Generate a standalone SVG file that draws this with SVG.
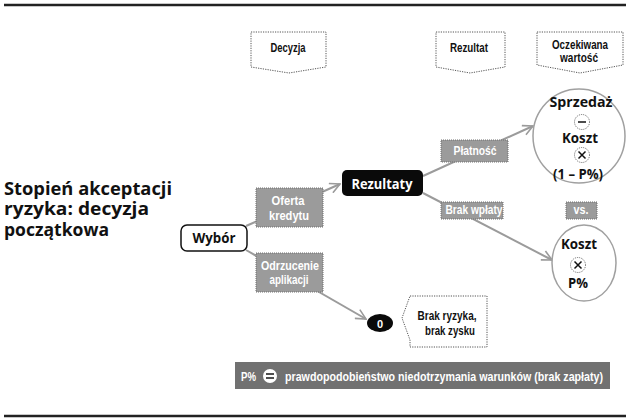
<svg xmlns="http://www.w3.org/2000/svg" width="630" height="419" viewBox="0 0 630 419">
<defs>
<style>
.rule{stroke:#222;stroke-width:2.5}
.hdr{fill:#fff;stroke:#555;stroke-width:1;stroke-dasharray:1.2 1.2}
.hdrt{font-family:"Liberation Sans Narrow","Liberation Sans",Arial,sans-serif;font-weight:bold;font-size:12px;fill:#111;text-anchor:middle}
.lbl{fill:#9b9b9b;stroke:#6e6e6e;stroke-width:1;stroke-dasharray:1 1}
.lblt{font-family:"Liberation Sans Narrow","Liberation Sans",Arial,sans-serif;font-weight:bold;font-size:12px;fill:#fff;text-anchor:middle}
.bold{font-family:"Open Sans","Liberation Sans",Arial,sans-serif;font-weight:bold;font-size:14px;text-anchor:middle}
.conn{stroke:#9b9b9b;stroke-width:2;fill:none}
.ell{fill:#fff;stroke:#a0a0a0;stroke-width:1.5}
.sym{fill:#fff;stroke:#444;stroke-width:0.8;stroke-dasharray:1 1}
.symm{stroke:#111;stroke-width:1.5;fill:none}
</style>
<marker id="arr" viewBox="0 0 12 12" refX="11" refY="6" markerWidth="12" markerHeight="12" markerUnits="userSpaceOnUse" orient="auto">
<path d="M1,1 L11,6 L1,11" fill="none" stroke="#9b9b9b" stroke-width="1.6"/>
</marker>
</defs>
<rect width="630" height="419" fill="#fff"/>
<line class="rule" x1="4" y1="5" x2="626" y2="5"/>
<line class="rule" x1="4" y1="416" x2="626" y2="416"/>

<g id="title">
<text font-family="'Open Sans','Liberation Sans',Arial,sans-serif" font-weight="bold" font-size="17" fill="#111">
<tspan x="4" y="195" textLength="168" lengthAdjust="spacingAndGlyphs">Stopień akceptacji</tspan>
<tspan x="4" y="215" textLength="145" lengthAdjust="spacingAndGlyphs">ryzyka: decyzja</tspan>
<tspan x="4" y="236" textLength="105" lengthAdjust="spacingAndGlyphs">początkowa</tspan>
</text>
</g>

<g id="hdr-decyzja">
<path class="hdr" d="M251,32 H326 V67 L289,73 L251,67 Z"/>
<text class="hdrt" x="288" y="52" textLength="35" lengthAdjust="spacingAndGlyphs">Decyzja</text>
</g>
<g id="hdr-rezultat">
<path class="hdr" d="M436,32 H505 V67 L470,73 L436,67 Z"/>
<text class="hdrt" x="469" y="52" textLength="38" lengthAdjust="spacingAndGlyphs">Rezultat</text>
</g>
<g id="hdr-oczekiwana">
<path class="hdr" d="M537,32 H623 V65 L580,73 L537,65 Z"/>
<text class="hdrt" x="580" y="49" textLength="56" lengthAdjust="spacingAndGlyphs">Oczekiwana</text>
<text class="hdrt" x="579" y="62" textLength="38" lengthAdjust="spacingAndGlyphs">wartość</text>
</g>

<g id="connectors">
<line class="conn" x1="246" y1="226" x2="340" y2="184" marker-end="url(#arr)"/>
<line class="conn" x1="246" y1="250" x2="366" y2="319" marker-end="url(#arr)"/>
<line class="conn" x1="423" y1="176" x2="533" y2="126" marker-end="url(#arr)"/>
<line class="conn" x1="423" y1="193" x2="552" y2="260" marker-end="url(#arr)"/>
</g>

<g id="wybor">
<rect x="181" y="225" width="66" height="26" rx="6" fill="#fff" stroke="#111" stroke-width="1.5"/>
<text class="bold" x="214" y="243" fill="#111" textLength="43" lengthAdjust="spacingAndGlyphs">Wybór</text>
</g>

<g id="rezultaty">
<rect x="342" y="170" width="81" height="26" rx="5" fill="#0a0a0a"/>
<text class="bold" x="382" y="189" fill="#fff" textLength="61" lengthAdjust="spacingAndGlyphs">Rezultaty</text>
</g>

<g id="oferta">
<rect class="lbl" x="256" y="188" width="67" height="39"/>
<text class="lblt" x="288" y="205" textLength="33" lengthAdjust="spacingAndGlyphs">Oferta</text>
<text class="lblt" x="289" y="220" textLength="40" lengthAdjust="spacingAndGlyphs">kredytu</text>
</g>

<g id="odrzucenie">
<rect class="lbl" x="256" y="253" width="67" height="39"/>
<text class="lblt" x="290" y="270" textLength="58" lengthAdjust="spacingAndGlyphs">Odrzucenie</text>
<text class="lblt" x="289" y="284" textLength="39" lengthAdjust="spacingAndGlyphs">aplikacji</text>
</g>

<g id="platnosc">
<rect class="lbl" x="441" y="140" width="67" height="22"/>
<text class="lblt" x="475" y="155" textLength="43" lengthAdjust="spacingAndGlyphs">Płatność</text>
</g>

<g id="brak-wplaty">
<rect class="lbl" x="441" y="202" width="62" height="17"/>
<text class="lblt" x="474" y="214" textLength="57" lengthAdjust="spacingAndGlyphs">Brak wpłaty</text>
</g>

<g id="vs">
<rect class="lbl" x="566" y="202" width="31" height="17"/>
<text class="lblt" x="581" y="214" textLength="15" lengthAdjust="spacingAndGlyphs">vs.</text>
</g>

<g id="wartosc-platnosc">
<ellipse class="ell" cx="579" cy="136" rx="46" ry="47"/>
<text class="bold" x="581" y="107" fill="#111" textLength="63" lengthAdjust="spacingAndGlyphs">Sprzedaż</text>
<circle class="sym" cx="582" cy="122" r="7.5"/>
<line class="symm" x1="578" y1="122" x2="586" y2="122"/>
<text class="bold" x="580" y="143" fill="#111" textLength="36" lengthAdjust="spacingAndGlyphs">Koszt</text>
<circle class="sym" cx="582" cy="155" r="7.5"/>
<path class="symm" d="M578.5,151.5 L585.5,158.5 M585.5,151.5 L578.5,158.5"/>
<text class="bold" x="578" y="179" fill="#111" textLength="50" lengthAdjust="spacingAndGlyphs">(1 – P%)</text>
</g>

<g id="wartosc-brak">
<ellipse class="ell" cx="584" cy="263" rx="32" ry="38"/>
<text class="bold" x="579" y="249" fill="#111" textLength="36" lengthAdjust="spacingAndGlyphs">Koszt</text>
<circle class="sym" cx="578" cy="265" r="7.5"/>
<path class="symm" d="M574.5,261.5 L581.5,268.5 M581.5,261.5 L574.5,268.5"/>
<text class="bold" x="578" y="288" fill="#111" textLength="20" lengthAdjust="spacingAndGlyphs">P%</text>
</g>

<g id="zero">
<ellipse cx="380" cy="323" rx="13" ry="9" fill="#0a0a0a"/>
<text x="380" y="327.5" font-family="'Liberation Sans',Arial,sans-serif" font-weight="bold" font-size="11" fill="#fff" text-anchor="middle">0</text>
</g>

<g id="brak-ryzyka">
<path class="hdr" d="M410,296 H487 V347 H410 V340 L402,318 Z"/>
<text class="hdrt" x="447" y="320" textLength="59" lengthAdjust="spacingAndGlyphs">Brak ryzyka,</text>
<text class="hdrt" x="450" y="335" textLength="50" lengthAdjust="spacingAndGlyphs">brak zysku</text>
</g>

<g id="legenda">
<rect x="235" y="362" width="375" height="27" fill="#717171"/>
<text class="lblt" x="248.5" y="381" font-size="12.5" textLength="15" lengthAdjust="spacingAndGlyphs">P%</text>
<circle cx="270" cy="376" r="7" fill="#fff"/>
<line x1="266" y1="374" x2="274" y2="374" stroke="#222" stroke-width="1.6"/>
<line x1="266" y1="378" x2="274" y2="378" stroke="#222" stroke-width="1.6"/>
<text class="lblt" x="444" y="381" font-size="12.5" textLength="318" lengthAdjust="spacingAndGlyphs">prawdopodobieństwo niedotrzymania warunków (brak zapłaty)</text>
</g>
</svg>
